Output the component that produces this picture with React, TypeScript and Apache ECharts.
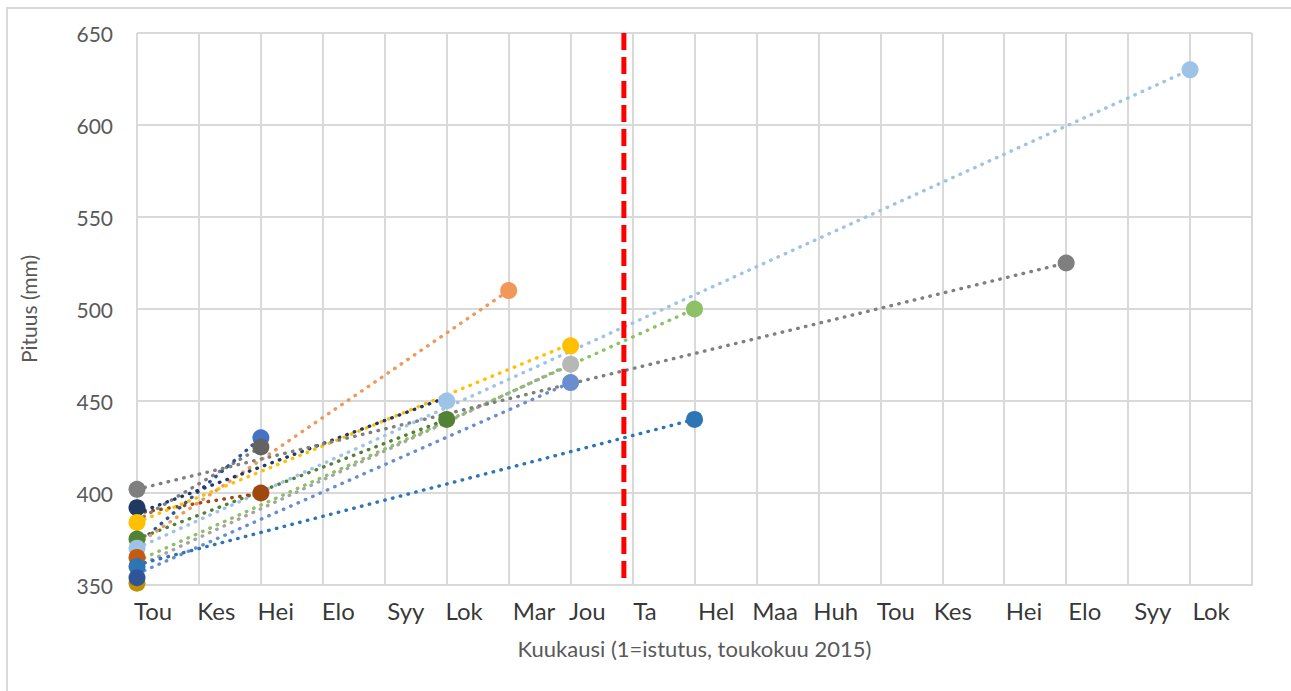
import React, { useEffect, useRef } from "react";
import * as echarts from "echarts";

// x-axis month labels (placed at fractional month positions)
const monthLabels = ["Tou", "Kes", "Hei", "Elo", "Syy", "Lok", "Mar", "Jou", "Ta", "Hel", "Maa", "Huh", "Tou", "Kes", "Hei", "Elo", "Syy", "Lok"];
const monthLabelX = [1.26, 2.28, 3.24, 4.25, 5.34, 6.28, 7.41, 8.27, 9.2, 10.35, 11.3, 12.28, 13.25, 14.17, 15.32, 16.3, 17.4, 18.34];

// y ticks
const yMin = 350;
const yMax = 650;
const yStep = 50;

// planting-date marker (vertical red dashed line)
const plantingX = 8.86;

// series: measured points
const s1Points = [[1, 360], [10, 440]];
const s2Points = [[7, 510]];
const s3Points = [[1, 384], [8, 480]];
const s4Points = [[1, 370], [6, 450], [18, 630]];
const s5Points = [[1, 402], [16, 525]];
const s6Points = [[1, 392]];
const s7Points = [[10, 500]];
const s8Points = [[8, 470]];
const s9Points = [[8, 460]];
const s10Points = [[3, 400]];
const s11Points = [[3, 430]];
const s12Points = [[3, 425]];
const s13Points = [[1, 375], [6, 440]];
const s14Points = [[1, 365]];
const s15Points = [[1, 354]];
const s16Points = [[1, 351]];

// trend lines (start and end)
const s1Trend = [[1, 361], [10, 440]];
const s2Trend = [[1, 372], [7, 510]];
const s3Trend = [[1, 384], [8, 481]];
const s4Trend = [[1, 370], [18, 630]];
const s5Trend = [[1, 402], [16, 525]];
const s6Trend = [[1, 389], [6, 452]];
const s7Trend = [[1, 363], [10, 500]];
const s8Trend = [[1, 360], [8, 470]];
const s9Trend = [[1, 356], [8, 460]];
const s10Trend = [[1, 389], [3, 400]];
const s11Trend = [[1, 372], [3, 430]];
const s12Trend = [[1, 385], [3, 425]];
const s13Trend = [[1, 375], [6, 440]];

const trends = [
  { data: s8Trend, color: "#A5A5A5" },
  { data: s7Trend, color: "#8CC168" },
  { data: s9Trend, color: "#698ED0" },
  { data: s1Trend, color: "#2E75B6" },
  { data: s13Trend, color: "#548235" },
  { data: s10Trend, color: "#9E480E" },
  { data: s12Trend, color: "#7F7F7F" },
  { data: s11Trend, color: "#2F5597" },
  { data: s4Trend, color: "#9DC3E6" },
  { data: s2Trend, color: "#F1975A" },
  { data: s3Trend, color: "#FFC000" },
  { data: s6Trend, color: "#203864" },
  { data: s5Trend, color: "#7F7F7F" },
];

const markers = [
  { data: s5Points, color: "#7F7F7F" },
  { data: s6Points, color: "#203864" },
  { data: s3Points, color: "#FFC000" },
  { data: s13Points, color: "#548235" },
  { data: s4Points, color: "#9DC3E6" },
  { data: s14Points, color: "#C55A11" },
  { data: s1Points, color: "#2E75B6" },
  { data: s16Points, color: "#BF9000" },
  { data: s15Points, color: "#2F5597" },
  { data: s11Points, color: "#4472C4" },
  { data: s12Points, color: "#636363" },
  { data: s10Points, color: "#9E480E" },
  { data: s2Points, color: "#F1975A" },
  { data: s8Points, color: "#B7B7B7" },
  { data: s9Points, color: "#698ED0" },
  { data: s7Points, color: "#8CC168" },
];

const FONT = "Lato, 'Open Sans', sans-serif";

export default function App() {
  const ref = useRef<HTMLDivElement>(null);
  useEffect(() => {
    document.body.style.margin = "0";
    if (!ref.current) return;
    const chart = echarts.init(ref.current, undefined, { renderer: "svg" });

    const series: any[] = [];
    trends.forEach((t, i) => {
      series.push({
        type: "line",
        name: "trend" + i,
        data: t.data,
        showSymbol: false,
        symbol: "none",
        silent: true,
        z: 2,
        lineStyle: { color: t.color, width: 3.4, type: [0.5, 7.5], cap: "round" },
      });
    });
    series.push({
      type: "line",
      name: "planting",
      data: [[plantingX, yMax], [plantingX, yMin]],
      symbol: "none",
      silent: true,
      z: 5,
      lineStyle: { color: "#FF0000", width: 5, type: [17, 7] },
    });
    markers.forEach((m, i) => {
      series.push({
        type: "scatter",
        name: "m" + i,
        data: m.data,
        symbolSize: 17,
        z: 4,
        itemStyle: { color: m.color, opacity: 1 },
      });
    });
    series.push({
      type: "scatter",
      name: "labels",
      data: monthLabels.map((l, i) => [monthLabelX[i], yMin, l]),
      symbolSize: 0,
      silent: true,
      clip: false,
      z: 6,
      label: {
        show: true,
        position: "bottom",
        distance: 13,
        formatter: (p: any) => p.data[2],
        color: "#000000",
        fontSize: 24,
        fontFamily: FONT,
      },
    });

    chart.setOption({
      animation: false,
      backgroundColor: "#ffffff",
      textStyle: { fontFamily: FONT },
      grid: { left: 137, right: 39, top: 33, bottom: 106, containLabel: false },
      xAxis: {
        type: "value",
        min: 1,
        max: 19,
        interval: 1,
        axisLabel: { show: false },
        axisTick: { show: false },
        axisLine: { show: true, lineStyle: { color: "#D9D9D9", width: 2 } },
        splitLine: { show: true, lineStyle: { color: "#D9D9D9", width: 2 } },
        name: "Kuukausi (1=istutus, toukokuu 2015)",
        nameLocation: "middle",
        nameGap: 52,
        nameTextStyle: { color: "#595959", fontSize: 22, fontFamily: FONT },
      },
      yAxis: {
        type: "value",
        min: yMin,
        max: yMax,
        interval: yStep,
        axisLabel: { color: "#595959", fontSize: 21, margin: 24, fontFamily: FONT },
        axisTick: { show: false },
        axisLine: { show: false },
        splitLine: { show: true, lineStyle: { color: "#D9D9D9", width: 2 } },
        name: "Pituus (mm)",
        nameLocation: "middle",
        nameGap: 98,
        nameTextStyle: { color: "#595959", fontSize: 21, fontFamily: FONT },
      },
      graphic: [
        {
          type: "rect",
          shape: { x: 7, y: 8, width: 1400, height: 800 },
          style: { fill: "none", stroke: "#D9D9D9", lineWidth: 2 },
          silent: true,
        },
      ],
      series,
    });
    return () => chart.dispose();
  }, []);
  return <div ref={ref} style={{ width: 1291, height: 691 }} />;
}
